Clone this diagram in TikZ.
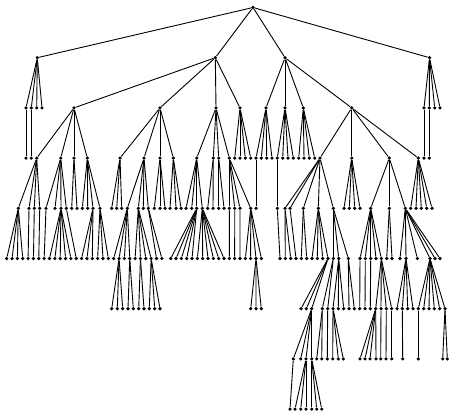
\documentclass[tikz,border=0pt]{standalone}
\begin{document}
\begin{tikzpicture}[x=1pt,y=-1pt,
  dot/.style={circle,fill=black,inner sep=0pt,minimum size=3.6pt},
  edge/.style={line width=0.9pt,black}]
\useasboundingbox (0,0) rectangle (450,412);
\node[dot] (r) at (253,7.5) {};
% level 1
\foreach \n/\p/\x in {A/r/37.3,B/r/215.3,C/r/285,D/r/429.5}{
  \node[dot] (\n) at (\x,57.7) {}; \draw[edge] (\p) -- (\n);}
% level 2
\foreach \n/\p/\x in {v2x26/A/26,v2x31/A/31.3,v2x37/A/36.7,v2x42/A/42,
  v2x74/B/74,v2x160/B/160,v2x216/B/216,v2x240/B/240,
  v2x266/C/266,v2x285/C/285,v2x303/C/303.3,v2x352/C/351.7,
  v2x424/D/424,v2x429/D/429.3,v2x435/D/434.7,v2x440/D/440}{
  \node[dot] (\n) at (\x,107.9) {}; \draw[edge] (\p) -- (\n);}
% level 3
\foreach \n/\p/\x in {v3x26/v2x26/26,v3x31/v2x31/31.3,
  v3x37/v2x74/36.7,v3x61/v2x74/60.7,v3x74/v2x74/74,v3x87/v2x74/87.3,
  v3x120/v2x160/120,v3x144/v2x160/144,v3x160/v2x160/160,v3x173/v2x160/173.3,
  v3x197/v2x216/196.7,v3x213/v2x216/213.3,v3x219/v2x216/218.7,v3x229/v2x216/229.3,
  v3x235/v2x240/234.7,v3x240/v2x240/240,v3x245/v2x240/245.3,v3x251/v2x240/250.7,
  v3x256/v2x266/256,v3x261/v2x266/261.3,v3x267/v2x266/266.7,v3x272/v2x266/272,
  v3x277/v2x285/277.3,v3x283/v2x285/282.7,v3x288/v2x285/288,v3x293/v2x285/293.3,
  v3x299/v2x303/298.7,v3x304/v2x303/304,v3x309/v2x303/309.3,v3x315/v2x303/314.7,
  v3x320/v2x352/320,v3x352/v2x352/351.7,v3x389/v2x352/389.3,v3x418/v2x352/418.3,
  v3x424/v2x424/424,v3x429/v2x429/429.3}{
  \node[dot] (\n) at (\x,158.1) {}; \draw[edge] (\p) -- (\n);}
% level 4
\foreach \n/\p/\x in {v4x18/v3x37/18.3,v4x29/v3x37/29,v4x34/v3x37/34.3,v4x40/v3x37/39.7,
  v4x46/v3x61/46,v4x55/v3x61/55,v4x61/v3x61/61,v4x66/v3x61/66.3,
  v4x72/v3x74/71.7,v4x77/v3x74/77,
  v4x82/v3x87/82.3,v4x88/v3x87/87.7,v4x93/v3x87/93,v4x100/v3x87/100,
  v4x112/v3x120/111.7,v4x117/v3x120/116.7,v4x122/v3x120/121.7,
  v4x127/v3x144/127.3,v4x138/v3x144/138.3,v4x143/v3x144/143.3,v4x148/v3x144/148.3,
  v4x154/v3x160/154.3,v4x160/v3x160/160,v4x165/v3x160/165,
  v4x170/v3x173/170,v4x176/v3x173/176,v4x181/v3x173/181,
  v4x186/v3x197/186,v4x192/v3x197/191.7,v4x197/v3x197/196.7,v4x202/v3x197/202.3,
  v4x208/v3x213/207.7,v4x213/v3x213/213,
  v4x219/v3x219/218.7,v4x224/v3x219/224,
  v4x229/v3x229/229.3,v4x235/v3x229/234.7,v4x240/v3x229/240,v4x251/v3x229/250.7,
  v4x256/v3x256/256,v4x277/v3x277/277.3,
  v4x285/v3x320/285,v4x290/v3x320/290,v4x303/v3x320/303.3,v4x318/v3x320/318.3,v4x333/v3x320/333.3,
  v4x344/v3x352/344,v4x349/v3x352/349.3,v4x355/v3x352/354.7,v4x360/v3x352/360,
  v4x371/v3x389/370.7,v4x389/v3x389/389.3,v4x405/v3x389/405.3,
  v4x411/v3x418/410.7,v4x416/v3x418/416,v4x421/v3x418/421.3,v4x427/v3x418/426.7,v4x432/v3x418/432}{
  \node[dot] (\n) at (\x,208.3) {}; \draw[edge] (\p) -- (\n);}
% level 5, left run
\foreach \p/\a/\b in {v4x18/0/3,v4x29/4/4,v4x34/5/5,v4x40/6/6,v4x46/7/7,v4x61/8/12,
  v4x66/13/13,v4x93/14/16,v4x100/17/19,v4x127/20/23,v4x138/24/27,v4x148/28/29}{
  \foreach \k in {\a,...,\b}{
    \node[dot] (v5a\k) at ({6.7+5.35*\k},258.5) {}; \draw[edge] (\p) -- (v5a\k);}}
% level 5, middle run
\foreach \p/\a/\b in {v4x197/0/4,v4x202/5/10,v4x229/11/11,v4x235/12/12,v4x240/13/13,v4x251/14/17}{
  \foreach \k in {\a,...,\b}{
    \node[dot] (v5m\k) at ({170.7+5.333*\k},258.5) {}; \draw[edge] (\p) -- (v5m\k);}}
% level 5, right
\foreach \n/\p/\x in {v5r0/v4x277/280,v5r1/v4x285/285.3,v5r2/v4x285/290.7,v5r3/v4x290/296,
  v5r4/v4x303/301.3,v5r5/v4x303/306.7,
  v5r6/v4x318/312,v5r7/v4x318/317.3,v5r8/v4x318/322.7,v5r9/v4x318/328,
  v5r10/v4x333/333.3,v5r11/v4x333/338.7,v5r12/v4x333/348.3,
  v5r13/v4x371/360,v5r14/v4x371/365.3,v5r15/v4x371/370.7,v5r16/v4x371/376,v5r17/v4x371/381.3,
  v5r18/v4x389/386.7,v5r19/v4x389/392,
  v5r20/v4x405/400,v5r21/v4x405/406,v5r22/v4x405/417.3,v5r23/v4x405/430,v5r24/v4x405/435,v5r25/v4x405/440}{
  \node[dot] (\n) at (\x,258.5) {}; \draw[edge] (\p) -- (\n);}
% level 6
\foreach \n/\p/\x in {v6L0/v5a21/111.7,v6L1/v5a21/117.3,v6L2/v5a21/122.7,
  v6L3/v5a23/128,v6L4/v5a23/133.3,v6L5/v5a25/138.7,v6L6/v5a25/144,
  v6L7/v5a27/149.3,v6L8/v5a27/154.7,v6L9/v5a27/160,
  v6M0/v5m16/250.7,v6M1/v5m16/256,v6M2/v5m16/261.3,
  s0/v5r9/301,s1/v5r9/306.3,s2/v5r9/311.7,s3/v5r10/322.3,s4/v5r10/327.7,
  s5/v5r11/333,s6/v5r11/338.3,s7/v5r11/343.7,s8/v5r12/349,s9/v5r12/354.3,
  s10/v5r13/359.7,s11/v5r14/365,s12/v5r15/370.3,
  s13/v5r17/375.7,s14/v5r17/381,s15/v5r17/386.3,s16/v5r17/391.7,
  s17/v5r21/397,s18/v5r21/402.3,s19/v5r21/407.7,s20/v5r21/413,
  s21/v5r23/418.3,s22/v5r23/423.7,s23/v5r23/429,s24/v5r23/434.3,s25/v5r23/439.7,s26/v5r23/445}{
  \node[dot] (\n) at (\x,308.7) {}; \draw[edge] (\p) -- (\n);}
% level 7
\foreach \n/\p/\x in {t0/s2/293.3,t1/s2/300.7,t2/s2/306,t3/s2/311.7,
  t4/s3/316.7,t5/s3/321.7,t6/s4/327.3,t7/s5/332.7,t8/s5/338.3,t9/s5/343.3,
  t10/s13/360,t11/s13/365,t12/s13/370,t13/s13/376,
  t14/s14/380.7,t15/s15/386,t16/s16/391.7,t17/s18/402.7,t18/s21/418.3,
  t19/s26/442.7,t20/s26/447.3}{
  \node[dot] (\n) at (\x,358.9) {}; \draw[edge] (\p) -- (\n);}
% level 8
\foreach \n/\p/\x in {u0/t0/290,u1/t2/295,u2/t2/300.7,u3/t2/306,
  u4/t3/311.7,u5/t3/316.7,u6/t3/321.7}{
  \node[dot] (\n) at (\x,409.1) {}; \draw[edge] (\p) -- (\n);}
\end{tikzpicture}
\end{document}
